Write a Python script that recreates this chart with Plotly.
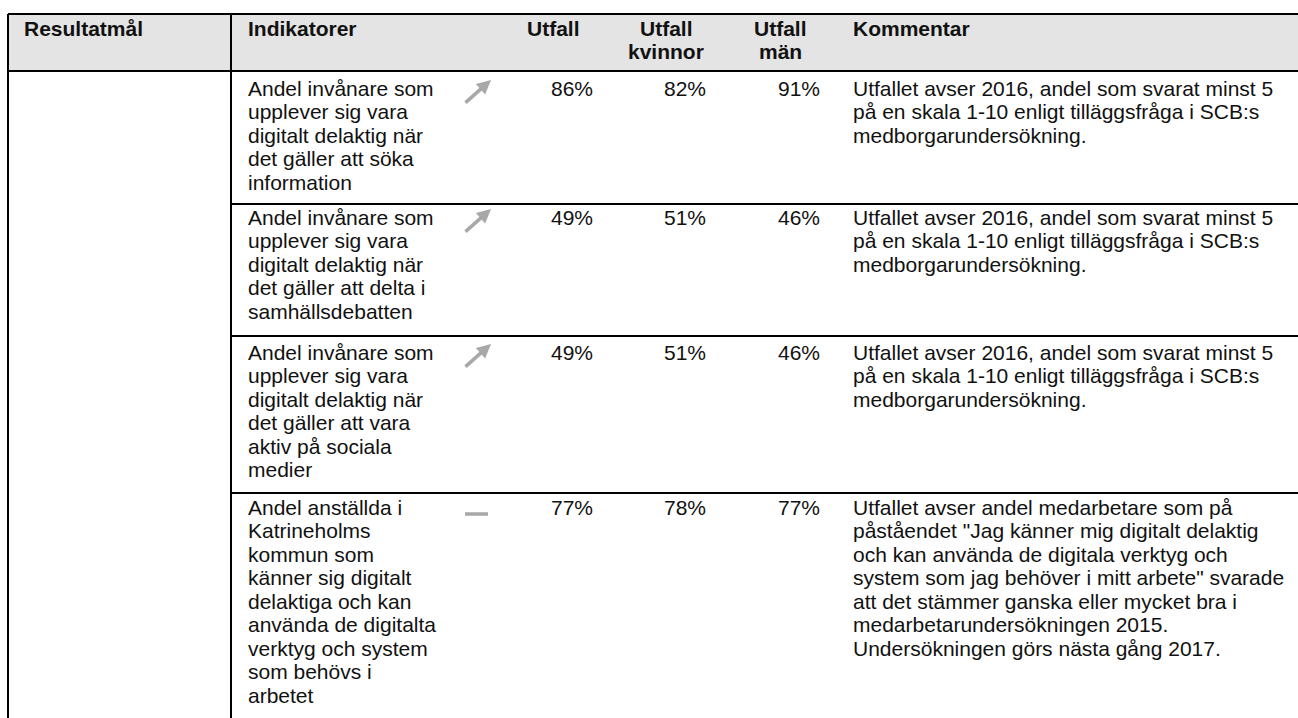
import plotly.graph_objects as go

# table content
headers = ["Resultatmål", "Indikatorer", "Utfall", "Utfall<br>kvinnor", "Utfall<br>män", "Kommentar"]

indicators = [
    ["Andel invånare som", "upplever sig vara", "digitalt delaktig när", "det gäller att söka", "information"],
    ["Andel invånare som", "upplever sig vara", "digitalt delaktig när", "det gäller att delta i", "samhällsdebatten"],
    ["Andel invånare som", "upplever sig vara", "digitalt delaktig när", "det gäller att vara", "aktiv på sociala", "medier"],
    ["Andel anställda i", "Katrineholms", "kommun som", "känner sig digitalt", "delaktiga och kan",
     "använda de digitalta", "verktyg och system", "som behövs i", "arbetet"],
]
trend = ["up", "up", "up", "flat"]
utfall = [86, 49, 49, 77]
utfall_kvinnor = [82, 51, 51, 78]
utfall_man = [91, 46, 46, 77]

scb_comment = ["Utfallet avser 2016, andel som svarat minst 5",
               "på en skala 1-10 enligt tilläggsfråga i SCB:s",
               "medborgarundersökning."]
comments = [
    scb_comment,
    scb_comment,
    scb_comment,
    ["Utfallet avser andel medarbetare som på",
     "påståendet \"Jag känner mig digitalt delaktig",
     "och kan använda de digitala verktyg och",
     "system som jag behöver i mitt arbete\" svarade",
     "att det stämmer ganska eller mycket bra i",
     "medarbetarundersökningen 2015.",
     "Undersökningen görs nästa gång 2017."],
]

# layout (pixels)
W, H = 1298, 718
FONT = "Arial, Liberation Sans, sans-serif"
FS = 21
LH = 23.5
left, col_div, top, head_bottom = 8, 231, 14, 71
row_tops = [71, 204, 336, 493]
row_text_y = [88, 217, 352, 507]
head_y = 28

x_res, x_ind, x_komm = 22, 246, 851
x_head = [553, 666, 780]
x_vals = [595, 708, 822]

fig = go.Figure()

shapes = []
shapes.append(dict(type="rect", x0=left, x1=W, y0=top, y1=head_bottom,
                   fillcolor="#e4e4e4", line=dict(width=0), layer="below"))
line = dict(color="black", width=2)
shapes.append(dict(type="line", x0=left, x1=W, y0=top, y1=top, line=line))
shapes.append(dict(type="line", x0=left, x1=W, y0=head_bottom, y1=head_bottom, line=line))
for y in row_tops[1:]:
    shapes.append(dict(type="line", x0=col_div, x1=W, y0=y, y1=y, line=line))
shapes.append(dict(type="line", x0=left, x1=left, y0=top, y1=H, line=line))
shapes.append(dict(type="line", x0=col_div, x1=col_div, y0=top, y1=H, line=line))

ann = []


def txt(x, y, s, anchor="left", bold=False):
    ann.append(dict(x=x, y=y, text="<b>%s</b>" % s if bold else s, showarrow=False,
                    xanchor=anchor, yanchor="middle",
                    font=dict(family=FONT, size=FS, color="#111111")))


txt(x_res, head_y, headers[0], bold=True)
txt(x_ind, head_y, headers[1], bold=True)
for hx, h in zip(x_head, headers[2:5]):
    for k, part in enumerate(h.split("<br>")):
        txt(hx, head_y + k * LH, part, anchor="center", bold=True)
txt(x_komm, head_y, headers[5], bold=True)

for i, ty in enumerate(row_text_y):
    for k, s in enumerate(indicators[i]):
        txt(x_ind, ty + k * LH, s)
    for k, s in enumerate(comments[i]):
        txt(x_komm, ty + k * LH, s)
    for vx, vals in zip(x_vals, [utfall, utfall_kvinnor, utfall_man]):
        txt(vx, ty, "%d%%" % vals[i], anchor="right")
    if trend[i] == "up":
        ann.append(dict(x=491, y=ty - 8, ax=464, ay=ty + 16, axref="x", ayref="y",
                        xref="x", yref="y", text="", showarrow=True,
                        arrowhead=2, arrowsize=0.8, arrowwidth=3.5, arrowcolor="#a8a8a8"))
    else:
        shapes.append(dict(type="line", x0=465, x1=488, y0=ty + 7, y1=ty + 7,
                           line=dict(color="#a8a8a8", width=3.5)))

fig.update_layout(
    width=W, height=H,
    margin=dict(l=0, r=0, t=0, b=0),
    paper_bgcolor="white", plot_bgcolor="white",
    xaxis=dict(range=[0, W], visible=False, fixedrange=True),
    yaxis=dict(range=[H, 0], visible=False, fixedrange=True),
    shapes=shapes, annotations=ann,
    showlegend=False,
)

fig.write_html("out.html", config={"displayModeBar": False},
               post_script="document.body.style.margin='0';")
